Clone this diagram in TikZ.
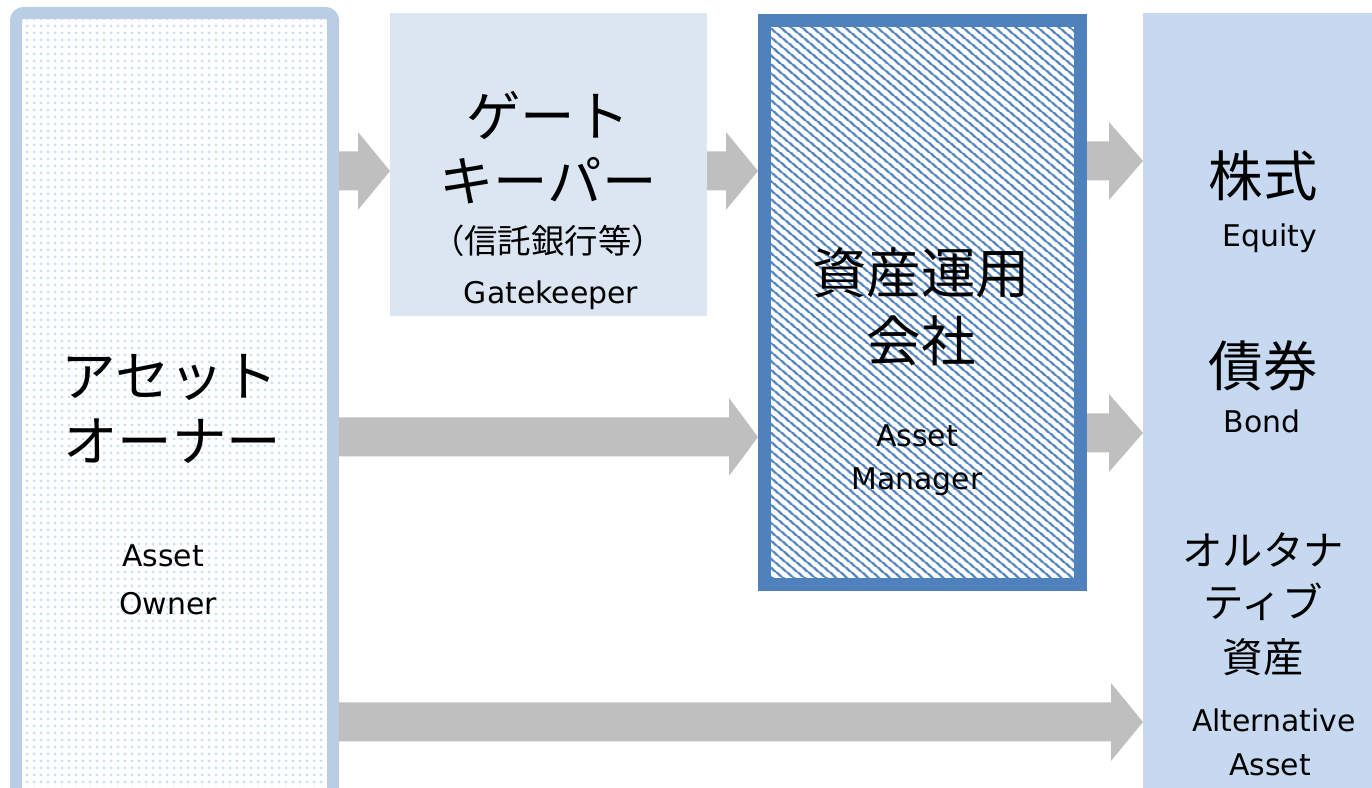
\documentclass[tikz,border=0pt]{standalone}
\definecolor{OwnerLine}{RGB}{185,205,229}
\definecolor{OwnerDot}{RGB}{204,221,241}
\definecolor{KeeperFill}{RGB}{220,230,242}
\definecolor{ManagerLine}{RGB}{79,129,189}
\definecolor{AssetFill}{RGB}{198,217,241}
\definecolor{ArrowGray}{RGB}{191,191,191}
\usepackage{fontspec}
\setmainfont{DejaVu Sans}
\newfontfamily\jpfont{Noto Sans CJK JP}
\usepackage{tikz}
\usetikzlibrary{calc}
\usetikzlibrary{patterns.meta}
\tikzstyle{bigjp} = [font=\jpfont\fontsize{31}{36}\selectfont, anchor=base]
\tikzstyle{midjp} = [font=\jpfont\fontsize{23}{28}\selectfont, anchor=base]
\tikzstyle{smalljp} = [font=\jpfont\fontsize{19}{23}\selectfont, anchor=base]
\tikzstyle{entext} = [font=\fontsize{17}{21}\selectfont, anchor=base]
\tikzstyle{panel} = [inner sep=0pt, rectangle]
\newcommand{\fatarrow}[3]{%
  \fill[ArrowGray] let \p1=(#1), \p2=(#2) in
    (\x1,\y2+0.39cm) -- (\x2-#3,\y2+0.39cm) -- (\x2-#3,\y2+0.78cm) -- (\x2,\y2)
    -- (\x2-#3,\y2-0.78cm) -- (\x2-#3,\y2-0.39cm) -- (\x1,\y2-0.39cm) -- cycle;}

\begin{document}
\begin{tikzpicture}
                \useasboundingbox (0,0) rectangle (27.44,15.76);
                \clip (0,0) rectangle (27.44,15.76);

                \node[panel, draw=OwnerLine, line width=0.24cm, outer sep=0.12cm, rounded corners=0.15cm, pattern={Dots[distance=0.14cm, radius=0.035cm]}, pattern color=OwnerDot, minimum width=6.34cm, minimum height=15.8cm] (owner) at (3.49,7.60) {};
                \node[panel, fill=KeeperFill, outer sep=0pt, minimum width=6.34cm, minimum height=6.06cm] (keeper) at (10.97,12.47) {};
                \node[panel, draw=ManagerLine, line width=0.26cm, outer sep=0.13cm, pattern={Lines[angle=-40, distance=0.14cm, line width=0.05cm]}, pattern color=ManagerLine, minimum width=6.32cm, minimum height=11.28cm] (manager) at (18.45,9.71) {};
                \node[panel, fill=AssetFill, outer sep=0pt, minimum width=5.14cm, minimum height=15.8cm] (assets) at (25.43,7.60) {};

                \coordinate (row1) at (0,12.34);
                \coordinate (row2) at (0,12.54);
                \coordinate (row3) at (0,7.10);
                \coordinate (row4) at (0,7.02);
                \coordinate (row5) at (0,1.32);
                \fatarrow{owner.east |- row1}{keeper.west |- row1}{0.64cm}
                \fatarrow{keeper.east |- row1}{manager.west |- row1}{0.64cm}
                \fatarrow{manager.east |- row2}{assets.west |- row2}{0.68cm}
                \fatarrow{manager.east |- row3}{assets.west |- row3}{0.68cm}
                \fatarrow{owner.east |- row4}{manager.west |- row4}{0.58cm}
                \fatarrow{owner.east |- row5}{assets.west |- row5}{0.64cm}

                \node[bigjp] (keeperjp1) at (10.96,13.03) {ゲート};
                \node[bigjp] (keeperjp2) at (10.96,11.73) {キーパー};
                \node[smalljp] (keepersub) at (10.96,10.69) {（信託銀行等）};
                \node[entext] (keeperen) at (11.02,9.68) {Gatekeeper};

                \node[bigjp] (ownerjp1) at (3.40,7.83) {アセット};
                \node[bigjp] (ownerjp2) at (3.44,6.53) {オーナー};
                \node[entext] (owneren1) at (3.26,4.42) {Asset};
                \node[entext] (owneren2) at (3.36,3.46) {Owner};

                \node[bigjp] (managerjp1) at (18.42,9.89) {資産運用};
                \node[bigjp] (managerjp2) at (18.42,8.53) {会社};
                \node[entext] (manageren1) at (18.34,6.82) {Asset};
                \node[entext] (manageren2) at (18.34,5.96) {Manager};

                \node[bigjp] (equityjp) at (25.26,11.83) {株式};
                \node[entext] (equityen) at (25.40,10.82) {Equity};
                \node[bigjp] (bondjp) at (25.26,8.03) {債券};
                \node[entext] (bonden) at (25.24,7.10) {Bond};
                \node[midjp] (altjp1) at (25.26,4.45) {オルタナ};
                \node[midjp] (altjp2) at (25.26,3.41) {ティブ};
                \node[midjp] (altjp3) at (25.26,2.31) {資産};
                \node[entext] (alten1) at (25.48,1.12) {Alternative};
                \node[entext] (alten2) at (25.40,0.24) {Asset};
            \end{tikzpicture}
\end{document}
